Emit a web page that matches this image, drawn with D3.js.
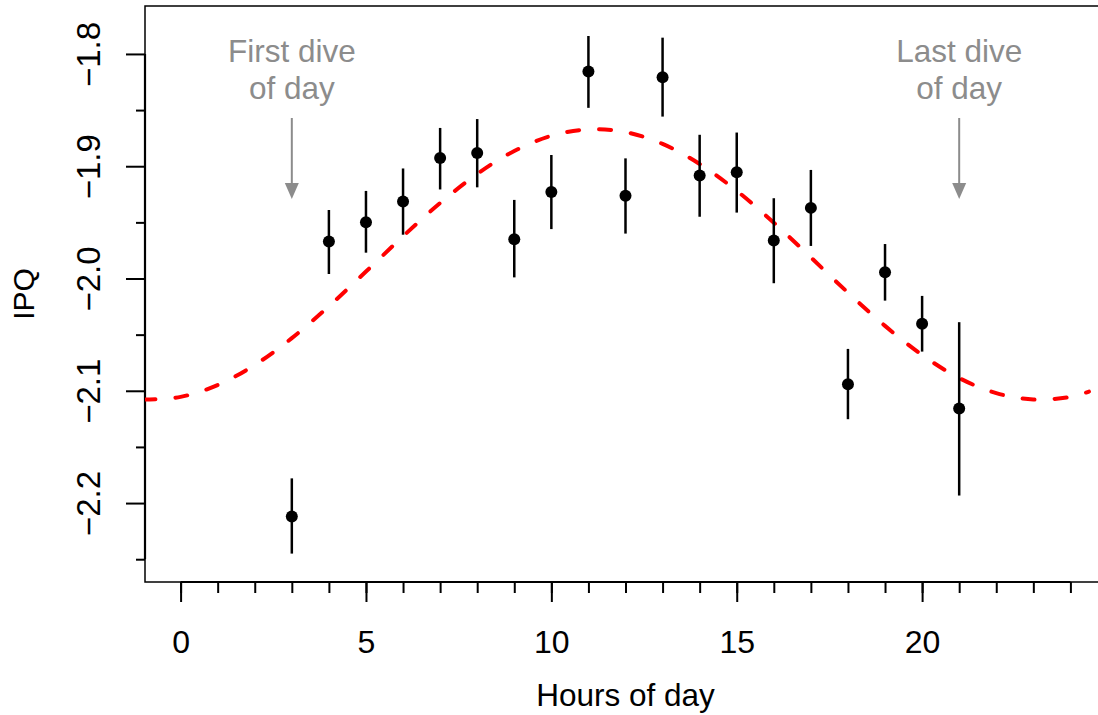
<!DOCTYPE html>
<html>
<head>
<meta charset="utf-8">
<script src="https://cdn.jsdelivr.net/npm/d3@7"></script>
<style>
  body { margin: 0; background: #fff; }
  text { font-family: "Liberation Sans", Arial, Helvetica, sans-serif; }
</style>
</head>
<body>
<div id="chart"></div>
<script>
// hourly means with error bars
const hours = [3, 4, 5, 6, 7, 8, 9, 10, 11, 12, 13, 14, 15, 16, 17, 18, 19, 20, 21];
const ipq = [-2.212, -1.967, -1.950, -1.9315, -1.8926, -1.8882, -1.965, -1.923, -1.8157, -1.9264,
  -1.8208, -1.9083, -1.9054, -1.9662, -1.9371, -2.0941, -1.9944, -2.0404, -2.1158];
const ipqUpper = [-2.178, -1.939, -1.922, -1.902, -1.8659, -1.858, -1.930, -1.890, -1.784, -1.893,
  -1.7855, -1.872, -1.870, -1.9285, -1.9033, -2.0627, -1.9693, -2.0155, -2.0389];
const ipqLower = [-2.245, -1.996, -1.977, -1.961, -1.9207, -1.9188, -1.999, -1.956, -1.848, -1.960,
  -1.8558, -1.945, -1.9413, -2.0042, -1.971, -2.1253, -2.0197, -2.0651, -2.1933];

// fitted daily curve (red dashed), sampled off the figure
const fitHours = [-1, 0, 1, 2, 3, 4, 5, 6, 7, 8, 9, 10, 11, 12, 13, 14, 15, 16, 17, 18, 19, 20, 21, 22, 23, 24, 24.5];
const fitIpq = [-2.1078, -2.1054, -2.0949, -2.0770, -2.0531, -2.0247, -1.9938, -1.9624, -1.9328, -1.9069,
  -1.8864, -1.8729, -1.8672, -1.8696, -1.8801, -1.8980, -1.9219, -1.9503, -1.9812, -2.0126,
  -2.0422, -2.0681, -2.0886, -2.1021, -2.1078, -2.1054, -2.1007];

const xMajor = [0, 5, 10, 15, 20];
const xMinor = d3.range(0, 25);
const yMajor = [-2.2, -2.1, -2.0, -1.9, -1.8];
const yMinor = [-2.25, -2.15, -2.05, -1.95, -1.85];

const notes = [
  {hour: 3, lines: ["First dive", "of day"]},
  {hour: 21, lines: ["Last dive", "of day"]}
];

const width = 1098, height = 715;
const plotL = 145, plotR = 1106, plotT = 6, plotB = 582;

const x = d3.scaleLinear().domain([-0.96, 24.96]).range([plotL, plotR]);
const y = d3.scaleLinear().domain([-2.2703, -1.7573]).range([plotB, plotT]);

const svg = d3.select("#chart").append("svg")
  .attr("width", width)
  .attr("height", height)
  .attr("xmlns", "http://www.w3.org/2000/svg");

svg.append("rect").attr("width", width).attr("height", height).style("fill", "white");

svg.append("defs").append("clipPath").attr("id", "plotclip")
  .append("rect")
  .attr("x", plotL).attr("y", plotT)
  .attr("width", plotR - plotL).attr("height", plotB - plotT);

// box
svg.append("rect")
  .attr("x", plotL).attr("y", plotT)
  .attr("width", plotR - plotL).attr("height", plotB - plotT)
  .style("fill", "none").style("stroke", "black").style("stroke-width", 1.5);

// x axis
const xAxisG = svg.append("g").attr("transform", `translate(0,${plotB})`);
xAxisG.append("g")
  .call(d3.axisBottom(x).tickValues(xMinor).tickSize(11).tickSizeOuter(0).tickFormat(""))
  .call(g => g.select(".domain").remove());
xAxisG.append("g")
  .call(d3.axisBottom(x).tickValues(xMajor).tickSize(20).tickSizeOuter(0).tickFormat(d3.format("d")))
  .call(g => g.select(".domain").remove())
  .call(g => g.selectAll("text").attr("y", 71).attr("dy", 0)
    .style("font-size", "32px").style("fill", "black"));
xAxisG.selectAll("line").style("stroke", "black").style("stroke-width", 2);
xAxisG.append("line")
  .attr("x1", x(0)).attr("x2", x(24))
  .style("stroke", "black").style("stroke-width", 2.2);

// y axis
const yAxisG = svg.append("g").attr("transform", `translate(${plotL},0)`);
yAxisG.append("g")
  .call(d3.axisLeft(y).tickValues(yMinor).tickSize(9).tickSizeOuter(0).tickFormat(""))
  .call(g => g.select(".domain").remove());
yAxisG.append("g")
  .call(d3.axisLeft(y).tickValues(yMajor).tickSize(19).tickSizeOuter(0).tickFormat(d3.format(".1f")))
  .call(g => g.select(".domain").remove())
  .call(g => g.selectAll("text")
    .attr("x", 0).attr("dy", 0)
    .attr("transform", "translate(-45,0) rotate(-90)")
    .attr("text-anchor", "middle")
    .style("font-size", "33px").style("fill", "black"));
yAxisG.selectAll("line").style("stroke", "black").style("stroke-width", 2);
yAxisG.append("line")
  .attr("y1", y(-1.8)).attr("y2", y(-2.25))
  .style("stroke", "black").style("stroke-width", 2.2);

// axis titles
svg.append("text")
  .attr("x", (plotL + plotR) / 2).attr("y", 706)
  .attr("text-anchor", "middle")
  .style("font-size", "31.5px")
  .text("Hours of day");

svg.append("text")
  .attr("transform", `translate(34,${(plotT + plotB) / 2}) rotate(-90)`)
  .attr("text-anchor", "middle")
  .style("font-size", "30px")
  .text("IPQ");

const plot = svg.append("g").attr("clip-path", "url(#plotclip)");

// fitted curve
const fitData = fitHours.map((h, i) => ({h: h, v: fitIpq[i]}));
plot.append("path")
  .datum(fitData)
  .attr("d", d3.line().x(d => x(d.h)).y(d => y(d.v)).curve(d3.curveCatmullRom))
  .style("fill", "none")
  .style("stroke", "#ff0000")
  .style("stroke-width", 4)
  .style("stroke-dasharray", "12,20")
  .style("stroke-linecap", "round");

// error bars and points
const pts = hours.map((h, i) => ({h: h, v: ipq[i], hi: ipqUpper[i], lo: ipqLower[i]}));
plot.selectAll(".err")
  .data(pts)
  .enter()
  .append("line")
  .attr("class", "err")
  .attr("x1", d => x(d.h)).attr("x2", d => x(d.h))
  .attr("y1", d => y(d.hi)).attr("y2", d => y(d.lo))
  .style("stroke", "black")
  .style("stroke-width", 2.5);

plot.selectAll(".pt")
  .data(pts)
  .enter()
  .append("circle")
  .attr("class", "pt")
  .attr("cx", d => x(d.h)).attr("cy", d => y(d.v))
  .attr("r", 6)
  .style("fill", "black");

// annotations
const grey = "#8c8c8c";
const noteG = svg.selectAll(".note")
  .data(notes)
  .enter()
  .append("g")
  .attr("class", "note");

noteG.each(function (d) {
  const g = d3.select(this);
  const cx = x(d.hour);
  d.lines.forEach((t, i) => {
    g.append("text")
      .attr("x", cx).attr("y", 62 + i * 37)
      .attr("text-anchor", "middle")
      .style("font-size", "31.5px")
      .style("fill", grey)
      .text(t);
  });
  g.append("line")
    .attr("x1", cx).attr("x2", cx)
    .attr("y1", 118).attr("y2", 188)
    .style("stroke", grey).style("stroke-width", 2);
  g.append("path")
    .attr("d", `M${cx - 7},183 L${cx + 7},183 L${cx},199 Z`)
    .style("fill", grey);
});
</script>
</body>
</html>
